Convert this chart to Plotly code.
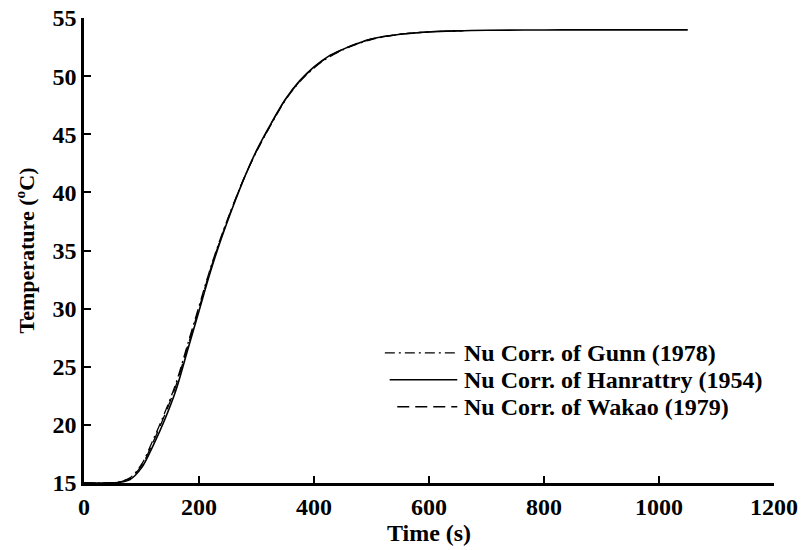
import plotly.graph_objects as go

# Simulated bed temperature vs. time for three Nusselt-number correlations
time_hanratty = [0, 40, 60, 80, 100, 120, 140, 160, 180, 200, 220, 240, 260, 280, 300,
                 325, 350, 375, 400, 425, 450, 475, 500, 550, 600, 650, 700, 800, 900, 1050]
temp_hanratty = [15.0, 15.0, 15.05, 15.3, 16.3, 18.2, 20.4, 23.0, 26.4, 29.8, 33.2, 36.2,
                 38.9, 41.4, 43.6, 45.9, 48.0, 49.6, 50.8, 51.7, 52.3, 52.8, 53.2, 53.6,
                 53.8, 53.9, 53.95, 53.97, 53.98, 53.98]

time_other = [0, 40, 60, 80, 100, 120, 140, 160, 180, 200, 220, 240, 260, 280, 300,
              325, 350, 375, 400, 425, 450, 475, 500, 550, 600, 660]
temp_gunn = [15.0, 15.0, 15.1, 15.45, 16.6, 18.7, 21.0, 23.6, 26.9, 30.2, 33.5, 36.4,
             39.0, 41.4, 43.5, 45.8, 47.9, 49.5, 50.7, 51.6, 52.25, 52.75, 53.15, 53.6,
             53.8, 53.9]
temp_wakao = [15.0, 15.0, 15.08, 15.4, 16.5, 18.5, 20.8, 23.4, 26.7, 30.0, 33.4, 36.3,
              39.0, 41.4, 43.55, 45.85, 47.95, 49.55, 50.75, 51.65, 52.3, 52.8, 53.2,
              53.6, 53.8, 53.9]

series_names = ["Nu Corr. of Gunn (1978)", "Nu Corr. of Hanrattry (1954)", "Nu Corr. of Wakao (1979)"]
series_dash = ["10px,4px,2px,4px", "solid", "12px,6px"]

x_ticks = [0, 200, 400, 600, 800, 1000, 1200]
y_ticks = [15, 20, 25, 30, 35, 40, 45, 50, 55]

FONT = "Liberation Serif"

fig = go.Figure()
series = [(time_other, temp_gunn), (time_hanratty, temp_hanratty), (time_other, temp_wakao)]
for (t, temp), name, dash in zip(series, series_names, series_dash):
    fig.add_trace(go.Scatter(
        x=t, y=temp, mode="lines", name=name, showlegend=False,
        line=dict(color="black", width=1.6 if dash == "solid" else 1.3, dash=dash, shape="spline"),
    ))

# Legend key drawn inside the plot area: a line sample followed by its label
legend_rows_y = [0.280, 0.222, 0.164]
legend_line_start = [0.436, 0.443, 0.454]
for name, dash, yy, x0 in zip(series_names, series_dash, legend_rows_y, legend_line_start):
    fig.add_shape(type="line", xref="paper", yref="paper",
                  x0=x0, x1=0.541, y0=yy, y1=yy,
                  line=dict(color="black", width=1.3, dash=dash))
    fig.add_annotation(text=name, xref="paper", yref="paper", x=0.548, y=yy,
                       xanchor="left", yanchor="middle", showarrow=False,
                       font=dict(family=FONT, size=24, color="black", weight="bold"))

axis_common = dict(
    showgrid=False, zeroline=False, showline=True, linecolor="black", linewidth=2.5,
    ticks="inside", ticklen=7, tickwidth=2, tickcolor="black", automargin=False,
    tickfont=dict(family=FONT, size=24, color="black", weight="bold"),
    mirror=False,
)

fig.update_layout(
    template="none",
    width=803, height=550,
    margin=dict(l=84, r=29, t=18, b=67),
    paper_bgcolor="white", plot_bgcolor="white",
    font=dict(family=FONT, color="black"),
    xaxis=dict(
        range=[0, 1200], tickvals=x_ticks, ticktext=[str(v) for v in x_ticks],
        title=dict(text="Time (s)", font=dict(family=FONT, size=24, weight="bold"), standoff=0),
        **axis_common,
    ),
    yaxis=dict(
        range=[15, 55], tickvals=y_ticks, ticktext=[str(v) for v in y_ticks],
        title=dict(text="Temperature (<sup>o</sup>C)", font=dict(family=FONT, size=22, weight="bold"), standoff=12),
        **axis_common,
    ),
    showlegend=False,
)

fig.write_html("out.html")
